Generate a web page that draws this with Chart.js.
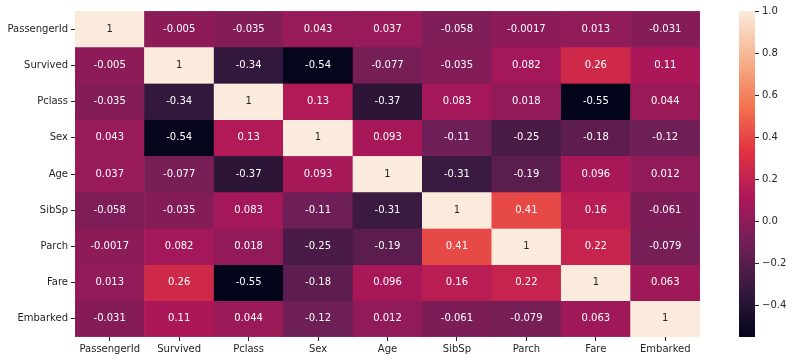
<!DOCTYPE html>
<html>
<head>
<meta charset="utf-8">
<script src="https://cdn.jsdelivr.net/npm/chart.js@4/dist/chart.umd.min.js"></script>
<style>
  html, body { margin: 0; padding: 0; background: #fff; }
  #wrap { position: relative; width: 793px; height: 361px; }
  #heat { position: absolute; left: 0; top: 0; }
  #cbar { position: absolute; left: 700px; top: 0; }
</style>
</head>
<body>
<div id="wrap">
  <canvas id="heat" width="705" height="361"></canvas>
  <canvas id="cbar" width="93" height="361"></canvas>
</div>
<script>
const names = ['PassengerId', 'Survived', 'Pclass', 'Sex', 'Age', 'SibSp', 'Parch', 'Fare', 'Embarked'];

const rowPassengerId = [1, -0.005, -0.035, 0.043, 0.037, -0.058, -0.0017, 0.013, -0.031];
const rowSurvived = [-0.005, 1, -0.34, -0.54, -0.077, -0.035, 0.082, 0.26, 0.11];
const rowPclass = [-0.035, -0.34, 1, 0.13, -0.37, 0.083, 0.018, -0.55, 0.044];
const rowSex = [0.043, -0.54, 0.13, 1, 0.093, -0.11, -0.25, -0.18, -0.12];
const rowAge = [0.037, -0.077, -0.37, 0.093, 1, -0.31, -0.19, 0.096, 0.012];
const rowSibSp = [-0.058, -0.035, 0.083, -0.11, -0.31, 1, 0.41, 0.16, -0.061];
const rowParch = [-0.0017, 0.082, 0.018, -0.25, -0.19, 0.41, 1, 0.22, -0.079];
const rowFare = [0.013, 0.26, -0.55, -0.18, 0.096, 0.16, 0.22, 1, 0.063];
const rowEmbarked = [-0.031, 0.11, 0.044, -0.12, 0.012, -0.061, -0.079, 0.063, 1];

const rows = [rowPassengerId, rowSurvived, rowPclass, rowSex, rowAge, rowSibSp, rowParch, rowFare, rowEmbarked];

const vmin = -0.55;
const vmax = 1;
const cbarTicks = [-0.4, -0.2, 0, 0.2, 0.4, 0.6, 0.8, 1.0];

// rocket colormap anchors
const rocket = [
  [0, [3, 5, 26]],
  [1 / 7, [53, 25, 62]],
  [2 / 7, [112, 31, 87]],
  [3 / 7, [173, 23, 89]],
  [4 / 7, [225, 51, 66]],
  [5 / 7, [243, 118, 81]],
  [6 / 7, [246, 180, 143]],
  [1, [250, 235, 221]],
];

function rocketAt(t) {
  t = Math.max(0, Math.min(1, t));
  for (let i = 1; i < rocket.length; i++) {
    const [t1, c1] = rocket[i];
    const [t0, c0] = rocket[i - 1];
    if (t <= t1) {
      const f = (t - t0) / (t1 - t0);
      return c0.map((c, k) => Math.round(c + (c1[k] - c) * f));
    }
  }
  return rocket[rocket.length - 1][1];
}

function colorFor(v) {
  const c = rocketAt((v - vmin) / (vmax - vmin));
  return `rgb(${c[0]}, ${c[1]}, ${c[2]})`;
}

function textColorFor(v) {
  const c = rocketAt((v - vmin) / (vmax - vmin)).map((x) => {
    x /= 255;
    return x <= 0.03928 ? x / 12.92 : Math.pow((x + 0.055) / 1.055, 2.4);
  });
  const lum = 0.2126 * c[0] + 0.7152 * c[1] + 0.0722 * c[2];
  return lum > 0.408 ? '#262626' : '#ffffff';
}

const font = { family: 'DejaVu Sans', size: 10 };
const ink = '#262626';

const annotate = {
  id: 'annotate',
  afterDatasetsDraw(chart) {
    const ctx = chart.ctx;
    ctx.save();
    ctx.font = '10px "DejaVu Sans"';
    ctx.textAlign = 'center';
    ctx.textBaseline = 'middle';
    chart.data.datasets.forEach((ds, r) => {
      chart.getDatasetMeta(r).data.forEach((el, c) => {
        const v = rows[r][c];
        ctx.fillStyle = textColorFor(v);
        ctx.fillText(String(v), el.x, (el.y + el.base) / 2);
      });
    });
    ctx.restore();
  },
};

new Chart(document.getElementById('heat'), {
  type: 'bar',
  data: {
    labels: names,
    datasets: rows.map((vals, r) => ({
      label: names[r],
      data: vals.map(() => [r, r + 1]),
      backgroundColor: vals.map(colorFor),
      borderColor: vals.map(colorFor),
      borderWidth: 0.5,
      borderSkipped: false,
      grouped: false,
      barPercentage: 1,
      categoryPercentage: 1,
    })),
  },
  options: {
    responsive: false,
    animation: false,
    devicePixelRatio: 1,
    layout: { padding: { top: 11, right: 5, left: 0, bottom: 0 } },
    plugins: { legend: { display: false }, tooltip: { enabled: false } },
    scales: {
      x: {
        grid: { display: true, drawOnChartArea: false, drawTicks: true, tickLength: 4, offset: false, color: ink },
        border: { display: false },
        ticks: { color: ink, font, padding: 2, maxRotation: 0 },
        afterFit: (s) => { s.height = 24; },
      },
      y: {
        type: 'linear',
        min: 0,
        max: 9,
        reverse: true,
        grid: { display: true, drawOnChartArea: false, drawTicks: true, tickLength: 4, color: ink },
        border: { display: false },
        ticks: { color: ink, font, padding: 3, callback: (v) => names[Math.floor(v)] },
        afterBuildTicks: (s) => { s.ticks = names.map((_, i) => ({ value: i + 0.5 })); },
        afterFit: (s) => { s.width = 75; },
      },
    },
  },
  plugins: [annotate],
});

new Chart(document.getElementById('cbar'), {
  type: 'bar',
  data: {
    labels: ['cbar'],
    datasets: [{
      data: [[vmin, vmax]],
      borderWidth: 0,
      barPercentage: 1,
      categoryPercentage: 1,
      backgroundColor: (context) => {
        const area = context.chart.chartArea;
        if (!area) return '#000';
        const g = context.chart.ctx.createLinearGradient(0, area.bottom, 0, area.top);
        rocket.forEach(([t, c]) => g.addColorStop(t, `rgb(${c[0]}, ${c[1]}, ${c[2]})`));
        return g;
      },
    }],
  },
  options: {
    responsive: false,
    animation: false,
    devicePixelRatio: 1,
    layout: { padding: { top: 11, left: 39, right: 0, bottom: 24 } },
    plugins: { legend: { display: false }, tooltip: { enabled: false } },
    scales: {
      x: { display: false },
      y: {
        position: 'right',
        min: vmin,
        max: vmax,
        grid: { display: true, drawOnChartArea: false, drawTicks: true, tickLength: 4, color: ink },
        border: { display: false },
        ticks: { color: ink, font, padding: 3, callback: (v) => v.toFixed(1).replace('-', '\u2212') },
        afterBuildTicks: (s) => { s.ticks = cbarTicks.map((v) => ({ value: v })); },
        afterFit: (s) => { s.width = 38; },
      },
    },
  },
});
</script>
</body>
</html>
